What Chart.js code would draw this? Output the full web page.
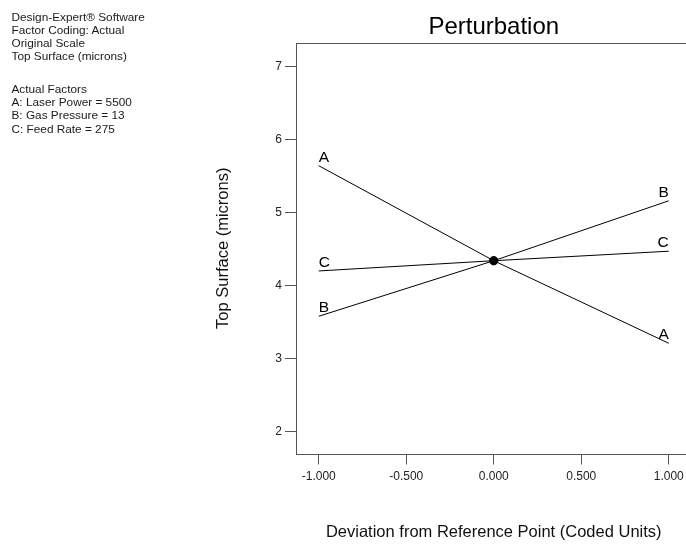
<!DOCTYPE html>
<html>
<head>
<meta charset="utf-8">
<script src="https://cdn.jsdelivr.net/npm/chart.js@4.4.1/dist/chart.umd.min.js"></script>
<style>
  html, body { margin: 0; padding: 0; background: #fff; overflow: hidden; }
  #wrap { position: relative; width: 686px; height: 545px; overflow: hidden; }
  canvas { position: absolute; left: 0; top: 0; }
  .notes { position: absolute; left: 11.5px; font-family: "Liberation Sans", Arial, sans-serif; font-size: 11.8px; line-height: 13.2px; color: #1a1a1a; white-space: nowrap; }
</style>
</head>
<body>
<div id="wrap">
  <canvas id="c" width="700" height="545"></canvas>
  <div class="notes" style="top:10.7px">Design-Expert® Software<br>Factor Coding: Actual<br>Original Scale<br>Top Surface (microns)</div>
  <div class="notes" style="top:83px">Actual Factors<br>A: Laser Power = 5500<br>B: Gas Pressure = 13<br>C: Feed Rate = 275</div>
</div>
<script>
// ---- data ----
const xValues = [-1, 0, 1];                 // deviation from reference point (coded)
const seriesA = [5.64, 4.34, 3.21];         // A: Laser Power
const seriesB = [3.58, 4.34, 5.16];         // B: Gas Pressure
const seriesC = [4.20, 4.34, 4.47];         // C: Feed Rate
const factorLabels = ['A', 'B', 'C'];
const referencePoint = [0, 4.34];
const xTickValues = [-1, -0.5, 0, 0.5, 1];
const yTickValues = [2, 3, 4, 5, 6, 7];

const FONT = '"Liberation Sans", Arial, Helvetica, sans-serif';
const AXIS = '#555555';

function toPoints(ys) { return xValues.map((x, i) => ({ x: x, y: ys[i] })); }

const endLabels = {
  id: 'endLabels',
  afterDatasetsDraw(chart) {
    const ctx = chart.ctx;
    ctx.save();
    ctx.fillStyle = '#000';
    ctx.font = '15.5px ' + FONT;
    ctx.textBaseline = 'alphabetic';
    for (let i = 0; i < factorLabels.length; i++) {
      const meta = chart.getDatasetMeta(i);
      const first = meta.data[0];
      const last = meta.data[meta.data.length - 1];
      ctx.textAlign = 'left';
      ctx.fillText(factorLabels[i], first.x, first.y - 4);
      ctx.textAlign = 'right';
      ctx.fillText(factorLabels[i], last.x, last.y - 4);
    }
    ctx.restore();
  }
};

const frame = {
  id: 'frame',
  afterDraw(chart) {
    const a = chart.chartArea;
    const ctx = chart.ctx;
    ctx.save();
    ctx.strokeStyle = AXIS;
    ctx.lineWidth = 1;
    ctx.strokeRect(Math.round(a.left) + 0.5, Math.round(a.top) + 0.5,
                   Math.round(a.right - a.left), Math.round(a.bottom - a.top));
    ctx.restore();
  }
};

const lineStyle = { borderColor: '#000', borderWidth: 1, pointRadius: 0, showLine: true, fill: false, tension: 0 };

new Chart(document.getElementById('c'), {
  type: 'scatter',
  data: {
    datasets: [
      Object.assign({ label: factorLabels[0], data: toPoints(seriesA) }, lineStyle),
      Object.assign({ label: factorLabels[1], data: toPoints(seriesB) }, lineStyle),
      Object.assign({ label: factorLabels[2], data: toPoints(seriesC) }, lineStyle),
      { label: 'ref', data: [{ x: referencePoint[0], y: referencePoint[1] }],
        pointRadius: 4.2, pointBackgroundColor: '#000', pointBorderColor: '#000', showLine: false }
    ]
  },
  options: {
    responsive: false,
    animation: false,
    devicePixelRatio: 1,
    layout: { padding: { left: 0, right: 8.5, top: 0, bottom: 0 } },
    plugins: {
      legend: { display: false },
      tooltip: { enabled: false },
      title: {
        display: true,
        fullSize: false,
        text: 'Perturbation',
        color: '#000',
        font: { family: FONT, size: 24, weight: 'normal' },
        padding: { top: 13.3, bottom: 0.9 }
      }
    },
    scales: {
      x: {
        type: 'linear',
        min: -1.13,
        max: 1.13,
        afterBuildTicks: (s) => { s.ticks = xTickValues.map(v => ({ value: v })); },
        afterFit: (s) => { s.height = 91.5; },
        border: { display: false },
        grid: { drawOnChartArea: false, drawTicks: true, tickLength: 11, color: AXIS, lineWidth: 1 },
        ticks: { color: '#222', font: { family: FONT, size: 12 }, padding: 5, maxRotation: 0,
                 callback: (v) => Number(v).toFixed(3) },
        title: { display: true, text: 'Deviation from Reference Point (Coded Units)', color: '#111',
                 font: { family: FONT, size: 16.5 }, padding: { top: 0, bottom: 3 } }
      },
      y: {
        type: 'linear',
        min: 1.702,
        max: 7.319,
        afterBuildTicks: (s) => { s.ticks = yTickValues.map(v => ({ value: v })); },
        afterFit: (s) => { s.width = 296; },
        border: { display: false },
        grid: { drawOnChartArea: false, drawTicks: true, tickLength: 11, color: AXIS, lineWidth: 1 },
        ticks: { color: '#222', font: { family: FONT, size: 12 }, padding: 3,
                 callback: (v) => String(v) },
        title: { display: true, text: 'Top Surface (microns)', color: '#111',
                 font: { family: FONT, size: 16.5 }, padding: { top: 214, bottom: 0 } }
      }
    }
  },
  plugins: [endLabels, frame]
});
</script>
</body>
</html>
